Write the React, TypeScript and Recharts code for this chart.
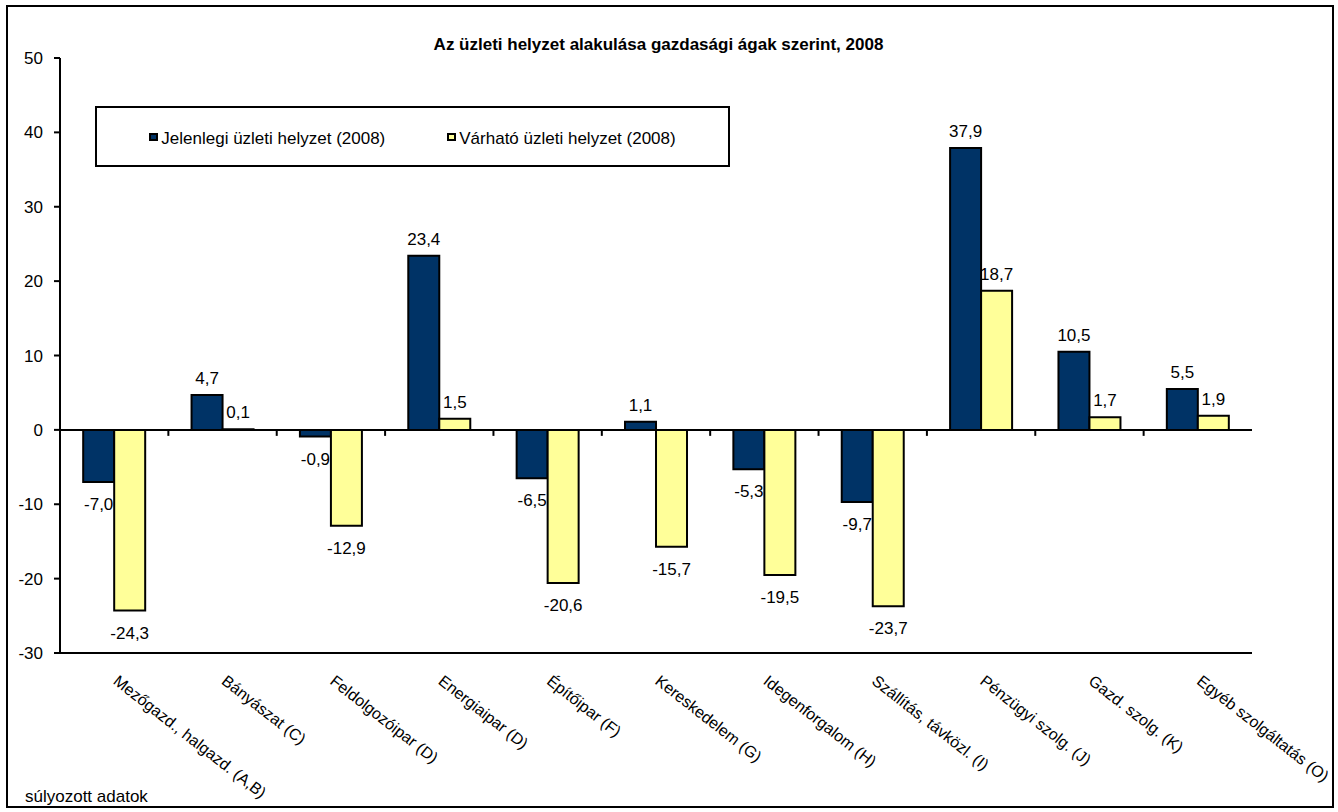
import {
  Bar,
  BarChart,
  LabelList,
  Legend,
  ReferenceLine,
  XAxis,
  YAxis,
} from "recharts";

const categories = [
  "Mezőgazd., halgazd. (A,B)",
  "Bányászat (C)",
  "Feldolgozóipar (D)",
  "Energiaipar (D)",
  "Építőipar (F)",
  "Kereskedelem (G)",
  "Idegenforgalom (H)",
  "Szállítás, távközl. (I)",
  "Pénzügyi szolg. (J)",
  "Gazd. szolg. (K)",
  "Egyéb szolgáltatás (O)",
];

const jelenlegi = [-7.0, 4.7, -0.9, 23.4, -6.5, 1.1, -5.3, -9.7, 37.9, 10.5, 5.5];
const varhato = [-24.3, 0.1, -12.9, 1.5, -20.6, -15.7, -19.5, -23.7, 18.7, 1.7, 1.9];

const yTicks = [-30, -20, -10, 0, 10, 20, 30, 40, 50];

const rows = categories.map((name, i) => ({
  name,
  jelenlegi: jelenlegi[i],
  varhato: varhato[i],
}));

const FONT = '"Liberation Sans", Arial, sans-serif';

const fmt = (v: number) => v.toFixed(1).replace(".", ",");

function ValueLabel(props: any) {
  const { x, y, width, height, value } = props;
  const top = Math.min(y, y + height);
  const bottom = Math.max(y, y + height);
  const cx = x + width / 2;
  const neg = value < 0;
  return (
    <text
      x={cx}
      y={neg ? bottom + 28 : top - 11}
      textAnchor="middle"
      fontSize={17}
      fontFamily={FONT}
      fill="#000"
    >
      {fmt(value)}
    </text>
  );
}

function CategoryTick(props: any) {
  const { x, y, payload } = props;
  const ax = x - 2;
  const ay = y + 30;
  return (
    <text
      x={ax}
      y={ay}
      transform={`rotate(38, ${ax}, ${ay})`}
      textAnchor="start"
      fontSize={16}
      fontFamily={FONT}
      fill="#000"
    >
      {payload.value}
    </text>
  );
}

// zero line with the small category-boundary tick marks hanging below it
function ZeroLine(props: any) {
  const { x1, x2, y1 } = props;
  const step = (x2 - x1) / categories.length;
  const ticks = categories.slice(1).map((_, i) => x1 + step * (i + 1));
  return (
    <g>
      <line x1={x1} x2={x2} y1={y1} y2={y1} stroke="#000" strokeWidth={2} />
      {ticks.map((tx) => (
        <line key={tx} x1={tx} x2={tx} y1={y1} y2={y1 + 6} stroke="#000" strokeWidth={2} />
      ))}
    </g>
  );
}

function LegendBox(props: any) {
  const { payload } = props;
  return (
    <div
      style={{
        width: 635,
        height: 61,
        boxSizing: "border-box",
        border: "2px solid #000",
        background: "#fff",
        display: "flex",
        alignItems: "center",
        justifyContent: "center",
        gap: 62,
        fontFamily: FONT,
        fontSize: 17,
        color: "#000",
      }}
    >
      {(payload ?? []).map((p: any) => (
        <div key={p.value} style={{ display: "flex", alignItems: "center" }}>
          <span
            style={{
              display: "inline-block",
              width: 9,
              height: 8,
              boxSizing: "border-box",
              border: "2px solid #000",
              background: p.color,
              marginRight: 3,
            }}
          />
          <span style={{ position: "relative", top: 2 }}>{p.value}</span>
        </div>
      ))}
    </div>
  );
}

export default function App() {
  return (
    <div
      style={{
        position: "absolute",
        left: 0,
        top: 0,
        width: 1338,
        height: 812,
        background: "#fff",
        fontFamily: FONT,
      }}
    >
      <div
        style={{
          position: "absolute",
          left: 6,
          top: 5,
          width: 1328,
          height: 803,
          boxSizing: "border-box",
          border: "2px solid #000",
        }}
      />
      <div
        style={{
          position: "absolute",
          left: 0,
          top: 36,
          width: 1317,
          textAlign: "center",
          fontSize: 17,
          lineHeight: "17px",
          fontWeight: "bold",
        }}
      >
        Az üzleti helyzet alakulása gazdasági ágak szerint, 2008
      </div>
      <div
        style={{
          position: "absolute",
          left: 25,
          top: 788,
          fontSize: 17,
          lineHeight: "17px",
        }}
      >
        súlyozott adatok
      </div>
      <div style={{ position: "absolute", left: 0, top: 0 }}>
        <BarChart
          width={1338}
          height={812}
          data={rows}
          margin={{ top: 58, right: 86, bottom: 0, left: 0 }}
          barCategoryGap="21.4%"
          barGap={0}
        >
          <XAxis
            dataKey="name"
            height={159}
            axisLine={{ stroke: "#000", strokeWidth: 2 }}
            tickLine={false}
            tickSize={0}
            tickMargin={0}
            interval={0}
            tick={<CategoryTick />}
          />
          <XAxis
            xAxisId="top"
            dataKey="name"
            orientation="top"
            height={0}
            tick={false}
            tickLine={false}
            axisLine={{ stroke: "#000", strokeWidth: 2 }}
          />
          <YAxis
            width={60}
            domain={[-30, 50]}
            ticks={yTicks}
            allowDataOverflow
            axisLine={{ stroke: "#000", strokeWidth: 2 }}
            tickLine={{ stroke: "#000", strokeWidth: 2 }}
            tickSize={6}
            tickMargin={11}
            tick={{ fill: "#000", fontSize: 17, fontFamily: FONT }}
          />
          <YAxis
            yAxisId="right"
            orientation="right"
            width={0}
            domain={[-30, 50]}
            tick={false}
            tickLine={false}
            axisLine={{ stroke: "#000", strokeWidth: 2 }}
          />
          <Legend
            verticalAlign="middle"
            layout="horizontal"
            wrapperStyle={{ left: 95, top: 106, width: 635, height: 61 }}
            content={<LegendBox />}
          />
          <Bar
            dataKey="jelenlegi"
            name="Jelenlegi üzleti helyzet (2008)"
            fill="#003366"
            stroke="#000"
            strokeWidth={2}
            isAnimationActive={false}
          >
            <LabelList dataKey="jelenlegi" content={<ValueLabel />} />
          </Bar>
          <Bar
            dataKey="varhato"
            name="Várható üzleti helyzet (2008)"
            fill="#FFFF99"
            stroke="#000"
            strokeWidth={2}
            isAnimationActive={false}
          >
            <LabelList dataKey="varhato" content={<ValueLabel />} />
          </Bar>
          <ReferenceLine y={0} stroke="#000" strokeWidth={2} shape={<ZeroLine />} />
        </BarChart>
      </div>
    </div>
  );
}
